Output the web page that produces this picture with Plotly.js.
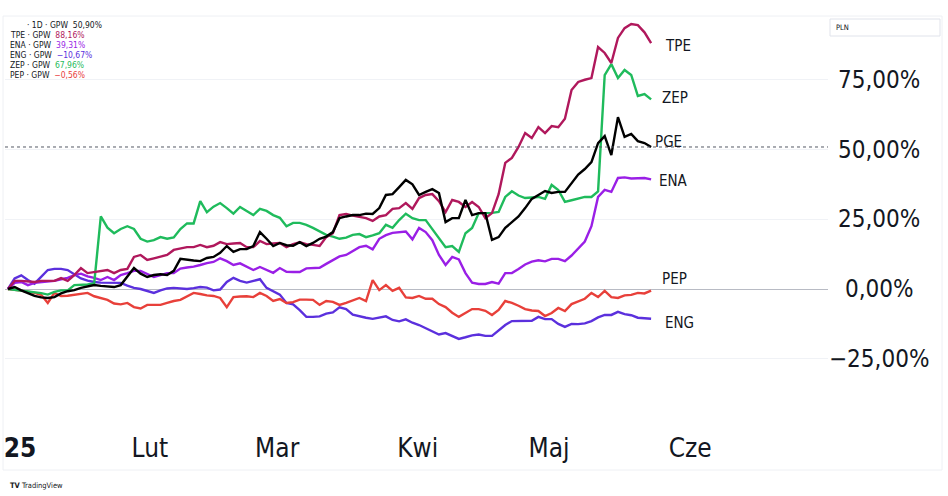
<!DOCTYPE html>
<html>
<head>
<meta charset="utf-8">
<script src="https://cdn.plot.ly/plotly-3.0.1.min.js"></script>
<style>
  html, body { margin: 0; padding: 0; background: #ffffff; }
  #chart { width: 948px; height: 496px; }
</style>
</head>
<body>
<div id="chart"></div>
<script>
// daily % change vs. first bar, GPW, Jan - May 2025
const names = ['TPE', 'ENA', 'ENG', 'ZEP', 'PEP', 'PGE']

const tpe = [0,2.9,2.9,2.7,2.5,2.9,2.9,2.9,3.9,2.9, 5,7.5,5.7,6,6.3,6.8,5.7,6.8,7.2,11.5,
  12.2,10.4,11,11.5,12.2,14,14.5,15,15,15.8, 15,15.5,16.8,16.1,16.3,16.5,15,15,17.2,16.1,
  16.3,16.5,15,16.1,16.8,16.1,15.8,15.4,18.6,20, 26.5,26.9,26.3,25.8,25.4,24.4,26,26.5,28.7,29,
  30.8,28.7,32.6,33.7,34,31.5,27.6,31.9,31.2,29.4, 31.2,29.4,25.4,27.2,34,45.2,47,50.9,55.9,54.1,
  58,55.9,58.4,58,61,71.3,74.2,75,75.6,86.7, 84.6,81,90,93.5,95,94.6,92,88.16]

const ena = [0,2.2,2.5,1.4,2.2,2.5,2.7,2.9,3.5,4, 5,5.5,4.5,4,3.2,4.3,3.2,5,5.7,6.5,
  6.5,5.5,4.3,5,5.7,5.7,7.3,7.7,8,8.6, 9.3,9.7,11,10,8.6,9.2,8,6.8,7.9,6.8,
  5.8,7.5,6.2,6.1,6.1,7.4,7.5,7.6,9,10.5, 11.7,12.2,13.5,15,15.5,14.2,18,19.3,20.1,20.4,
  20.6,17.8,21.9,20.4,17.5,12.2,8.6,11.5,10.6,5.7, 2.3,1.8,1.8,2.5,1.9,5.7,5.7,7.2,8.8,9.8,
  10.3,9.9,10.8,10.8,10,12,14.5,17,22.5,33, 35.5,34.8,39.8,40,39.6,39.6,39.8,39.31]

const eng = [0,3.8,4.9,3.2,1.9,4.5,6.8,7.2,7.2,6.8, 5.2,3.8,3,2.5,2.3,2.2,2.2,2.2,1.2,0.4,
  0,-0.7,-1.4,-0.5,0.2,0.4,0.2,0,0.3,0.7, 0.5,-0.5,-0.2,2.5,4,2.9,2.3,3,3.5,0.4,
  -0.8,-2,-5,-5.5,-7.6,-10,-10,-9.8,-8.8,-8.4, -6.6,-7.2,-9.2,-9.8,-10.3,-10.7,-10.3,-9.8,-11.1,-11.6,
  -10.9,-12.1,-12.9,-14,-15,-16.3,-15.8,-16.8,-17.9,-17.3, -16.6,-16.3,-16.8,-16.8,-14.9,-12.9,-11.5,-11.5,-11.6,-11.4,
  -10,-10.8,-10.8,-12.5,-13.6,-12.5,-12.6,-12.3,-11.5,-10.2, -9.3,-9.3,-8.2,-9,-9.4,-10.3,-10.5,-10.67]

const zep = [0,-0.3,-0.5,-0.8,-1,-1.5,-2,-1,-0.5,-0.5, 1.4,1.4,1.6,2,26,22,20,21.5,22.5,21.5,
  18,17,17.5,18.6,18,18.5,21.5,23.5,23.5,31.5, 27.5,29.5,30.8,29,27,29.4,28,26.5,28.7,28,
  26.5,25.5,22.5,23.7,23.7,23,21.9,20.5,19.4,18.8, 18,18.4,19.4,19.7,18.6,19.2,20,23,21.9,24.7,
  27,25.4,24.7,24.7,21.5,18.5,15,15.4,13.3,20, 21.9,27.2,27.2,27.3,27.6,33,35,33.5,32.6,32.8,
  33,32.3,37.3,35.5,31.2,31.8,32.3,33,33,35, 76.7,80.6,75.6,78.5,76.7,69.2,69.9,67.96]

const pep = [0,-0.2,-0.6,-1,-1.4,-2.1,-5,-1.4,-2.5,-2.4, -2.1,-1.8,-1.4,-2.6,-3.2,-3.9,-5.2,-5.5,-5,-6.5,
  -7,-5.7,-5.7,-5.7,-5,-4.3,-3.9,-2.5,-1.4,-1.8, -2.3,-2.5,-3.2,-6.5,-2.9,-2.7,-2.6,-2.9,-1.4,-2.5,
  -4.3,-3.6,-5,-4.7,-3.8,-3.8,-3.9,-5.7,-4.3,-4.6, -5.7,-5,-4,-3.2,-4.3,3.2,-0.4,1.4,-0.7,0.4,
  -3,-3.2,-2.5,-3.5,-3.5,-5.4,-6.5,-8.5,-10,-8.6, -7.2,-7.2,-7.8,-9.3,-7.5,-4.3,-5,-6,-7.2,-7.7,
  -7.9,-9.7,-8.6,-6.8,-7.9,-5.4,-4.5,-3.5,-1.4,-2.9, -0.7,-2.9,-3.2,-2.3,-2.1,-1.4,-1.6,-0.56]

const pge = [0,0.7,-0.5,-1.4,-2.5,-3,-3.2,-2.9,-1.6,-0.8, -0.4,0.4,0.8,1.4,1.1,0.9,0.7,1.4,4.3,7.5,
  5.5,4.3,5,5.3,5,6.5,10.8,10.4,10.2,10, 11.1,11.5,13,15.4,13.3,14.3,14.3,15.4,20.4,18,
  15.4,16.5,15.7,15.5,16.8,15.4,16.5,18,18.8,20.4, 25.4,26,26.5,26.5,27,26.9,29,33.7,34,36.5,
  39.1,37.5,33.7,34.8,35.8,34.4,24,25.4,25.4,31.9, 26.5,27.2,27.2,17.6,18.6,21.9,24,26,29,32.3,
  33.7,35.1,34.4,34.8,34.8,38,41,43,45.5,52.3, 54.8,48,61.6,54.5,55.6,53,52.3,50.9]

// month labels and the bar index where each one sits
const monthText = ['<b>25</b>', 'Lut', 'Mar', 'Kwi', 'Maj', 'Cze']
const monthBar = [1.8, 21.4, 40.6, 61.8, 81.6, 102.9]

// price scale ticks (%)
const yTicks = [75, 50, 25, 0, -25]

const series = {TPE: tpe, ENA: ena, ENG: eng, ZEP: zep, PEP: pep, PGE: pge}
const colors = {TPE: '#b0185c', ENA: '#9a1fe6', ENG: '#5b30dd', ZEP: '#1fbb5c', PEP: '#e8403a', PGE: '#000000'}
// end label offsets in px (xshift, yshift)
const labelShift = {TPE: [12, -3], ZEP: [9, 1], PGE: [2, 5], ENA: [6, -2], PEP: [9, 12], ENG: [12, -4]}

const FONT = "'Liberation Sans Narrow', 'DejaVu Sans Condensed', 'Arial Narrow', sans-serif"
const INK = '#131722'

// plot box in page pixels
const L = 5, R = 828, T = 17, B = 425
function px(x) { return (x - L) / (R - L) }
function py(y) { return (B - y) / (B - T) }

function fmt(v) {
  let s = Math.abs(v).toFixed(2).replace('.', ',') + '%'
  return v < 0 ? '\u2212' + s : s
}

let traces = []
for (const name of ['ENG', 'PEP', 'ENA', 'ZEP', 'TPE', 'PGE']) {
  const ys = series[name]
  traces.push({
    x: ys.map((_, i) => i),
    y: ys,
    type: 'scatter',
    mode: 'lines',
    line: {color: colors[name], width: 2.4},
    hoverinfo: 'skip'
  })
}

let annotations = []

// labels at the end of each line
for (const name of ['TPE', 'ZEP', 'PGE', 'ENA', 'PEP', 'ENG']) {
  const ys = series[name]
  annotations.push({
    x: ys.length - 1, y: ys[ys.length - 1], xref: 'x', yref: 'y',
    text: name, showarrow: false, xanchor: 'left', yanchor: 'middle',
    xshift: labelShift[name][0], yshift: labelShift[name][1],
    font: {family: FONT, size: 15, color: INK}
  })
}

// price scale labels, centred in the scale column
for (const v of yTicks) {
  annotations.push({
    x: px(879), y: v, xref: 'paper', yref: 'y',
    text: fmt(v), showarrow: false, xanchor: 'center', yanchor: 'middle',
    font: {family: FONT, size: 24, color: INK}
  })
}

// legend block top left
const last = (a) => a[a.length - 1]
annotations.push({
  x: px(25), y: py(25), xref: 'paper', yref: 'paper', xanchor: 'left', yanchor: 'middle',
  showarrow: false, font: {family: FONT, size: 8.5, color: INK},
  text: '\u00b7 1D \u00b7 GPW  ' + fmt(last(pge))
})
const legendRows = ['TPE', 'ENA', 'ENG', 'ZEP', 'PEP']
legendRows.forEach((name, k) => {
  annotations.push({
    x: px(8), y: py(35 + k * 10), xref: 'paper', yref: 'paper', xanchor: 'left', yanchor: 'middle',
    showarrow: false, font: {family: FONT, size: 8.5, color: INK},
    text: name + ' \u00b7 GPW  <span style="color:' + colors[name] + '">' + fmt(last(series[name])) + '</span>'
  })
})

annotations.push({
  x: px(834), y: py(27.5), xref: 'paper', yref: 'paper', xanchor: 'left', yanchor: 'middle',
  showarrow: false, text: 'PLN', font: {family: FONT, size: 7.5, color: INK}
})
annotations.push({
  x: px(8), y: py(486), xref: 'paper', yref: 'paper', xanchor: 'left', yanchor: 'middle',
  showarrow: false, text: '<b>TV</b> TradingView', font: {family: FONT, size: 7.5, color: INK}
})

const shapes = [
  // last price line of the main symbol
  {type: 'line', xref: 'paper', yref: 'y', x0: 0, x1: 1, y0: last(pge), y1: last(pge),
   line: {color: '#555a66', width: 1, dash: 'dot'}},
  // currency box
  {type: 'rect', xref: 'paper', yref: 'paper', x0: px(830), x1: px(940), y0: py(36), y1: py(19),
   line: {color: '#e0e3eb', width: 1}},
  // outer frame
  {type: 'rect', xref: 'paper', yref: 'paper', x0: px(3), x1: px(942), y0: py(470), y1: py(16),
   line: {color: '#eef0f4', width: 1}, layer: 'below'}
]

const layout = {
  width: 948,
  height: 496,
  margin: {l: L, r: 948 - R, t: T, b: 496 - B, pad: 0},
  paper_bgcolor: '#ffffff',
  plot_bgcolor: '#ffffff',
  showlegend: false,
  separators: ',.',
  font: {family: FONT, color: INK},
  xaxis: {
    range: [(L - 8) / 6.63, (R - 8) / 6.63],
    tickvals: monthBar,
    ticktext: monthText,
    showgrid: false, zeroline: false, showline: false, ticks: '',
    ticklabelstandoff: 5,
    tickfont: {family: FONT, size: 26, color: INK},
    fixedrange: true
  },
  yaxis: {
    side: 'right',
    range: [(289 - B) / 2.79, (289 - T) / 2.79],
    tickvals: yTicks,
    showticklabels: false,
    showgrid: true, gridcolor: '#f0f2f6', gridwidth: 1,
    zeroline: true, zerolinecolor: '#b8bbc4', zerolinewidth: 1,
    showline: false, ticks: '',
    fixedrange: true
  },
  annotations: annotations,
  shapes: shapes
}

Plotly.newPlot('chart', traces, layout, {displayModeBar: false, staticPlot: true})
</script>
</body>
</html>
